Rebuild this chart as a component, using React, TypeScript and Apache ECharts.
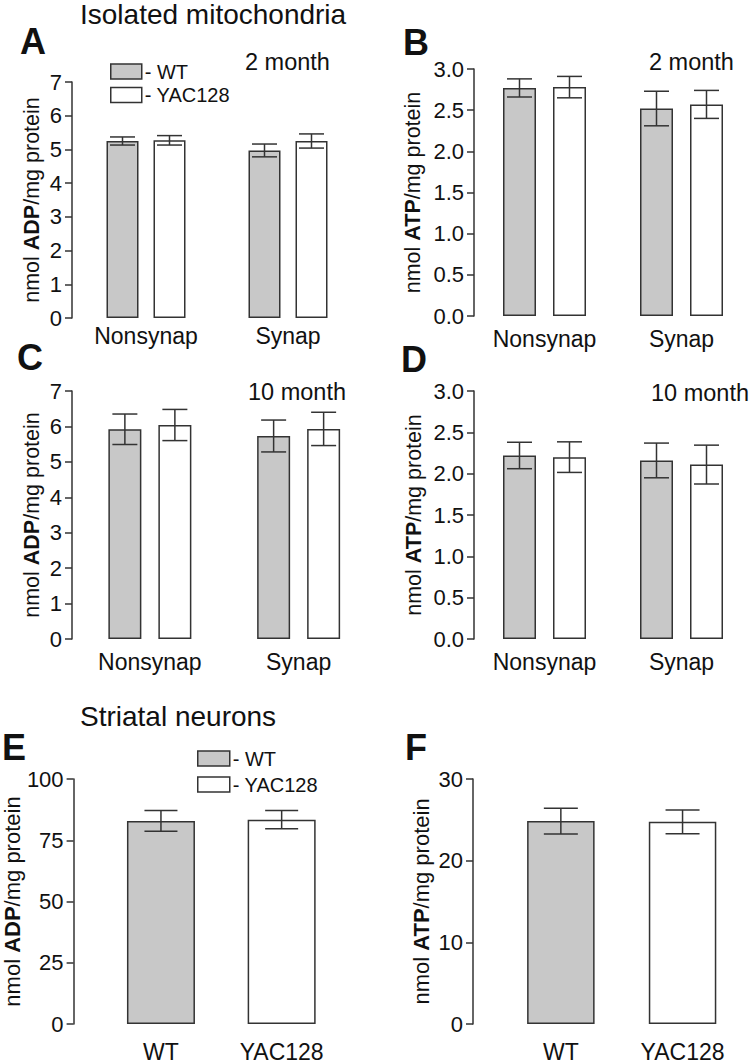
import React, { useEffect, useRef } from 'react';
import * as echarts from 'echarts';

// ---- data ----
const mitoGroups = ['Nonsynap', 'Synap'];
const neuronGroups = ['WT', 'YAC128'];
const seriesNames = ['WT', 'YAC128'];

// 2 month ADP (A)
const adp2moWT = [5.25, 4.97];
const adp2moWTErr = [0.12, 0.19];
const adp2moYAC = [5.27, 5.25];
const adp2moYACErr = [0.14, 0.21];
// 2 month ATP (B)
const atp2moWT = [2.77, 2.52];
const atp2moWTErr = [0.11, 0.21];
const atp2moYAC = [2.78, 2.57];
const atp2moYACErr = [0.13, 0.17];
// 10 month ADP (C)
const adp10moWT = [5.92, 5.73];
const adp10moWTErr = [0.43, 0.45];
const adp10moYAC = [6.04, 5.93];
const adp10moYACErr = [0.44, 0.47];
// 10 month ATP (D)
const atp10moWT = [2.22, 2.16];
const atp10moWTErr = [0.16, 0.21];
const atp10moYAC = [2.2, 2.11];
const atp10moYACErr = [0.185, 0.235];
// Striatal neurons (E, F)
const adpNeuron = [82.9, 83.4];
const adpNeuronErr = [4.2, 3.75];
const atpNeuron = [24.85, 24.76];
const atpNeuronErr = [1.57, 1.45];

// axis ranges [min, max, interval]
const mitoADPAxis = [0, 7, 1];
const mitoATPAxis = [0, 3, 0.5];
const neuronADPAxis = [0, 100, 25];
const neuronATPAxis = [0, 30, 10];

// ---- styling ----
const FONT = 'Liberation Sans, Arial, Helvetica, sans-serif';
const GRAY = '#c8c8c8';
const EDGE = '#333333';
const INK = '#111111';

function yName(met: string) {
  return '{n|nmol }{b|' + met + '}{n|/mg protein}';
}

function makeErr(idx: number, vals: number[], errs: number[], offset: number, capW: number) {
  return {
    type: 'custom',
    xAxisIndex: idx,
    yAxisIndex: idx,
    silent: true,
    z: 5,
    data: vals.map((v, i) => [i, v, errs[i]]),
    encode: { x: 0, y: 1 },
    renderItem: (params: any, api: any) => {
      const i = api.value(0);
      const v = api.value(1);
      const e = api.value(2);
      const top = api.coord([i, v + e]);
      const bot = api.coord([i, v - e]);
      const x = top[0] + offset;
      const st = { stroke: EDGE, lineWidth: 1.5 };
      return {
        type: 'group',
        children: [
          { type: 'line', shape: { x1: x, y1: top[1], x2: x, y2: bot[1] }, style: st },
          { type: 'line', shape: { x1: x - capW / 2, y1: top[1], x2: x + capW / 2, y2: top[1] }, style: st },
          { type: 'line', shape: { x1: x - capW / 2, y1: bot[1], x2: x + capW / 2, y2: bot[1] }, style: st },
        ],
      };
    },
  };
}

function buildOption() {
  const panels = [
    { grid: { left: 75, top: 82, width: 284, height: 236 }, off: 3, axis: mitoADPAxis, dec: 0, met: 'ADP', nameGap: 29, nameSize: 21.5, xMargin: 6,
      cats: mitoGroups, wt: adp2moWT, wtE: adp2moWTErr, yac: adp2moYAC, yacE: adp2moYACErr, barW: 32, gap: 15, capW: 25 },
    { grid: { left: 476, top: 69, width: 297, height: 247 }, off: 2, axis: mitoATPAxis, dec: 1, met: 'ATP', nameGap: 50, nameSize: 21.5, xMargin: 11,
      cats: mitoGroups, wt: atp2moWT, wtE: atp2moWTErr, yac: atp2moYAC, yacE: atp2moYACErr, barW: 33, gap: 17, capW: 25 },
    { grid: { left: 75.5, top: 391, width: 297.5, height: 248 }, off: 3.5, axis: mitoADPAxis, dec: 0, met: 'ADP', nameGap: 29, nameSize: 21.5, xMargin: 11,
      cats: mitoGroups, wt: adp10moWT, wtE: adp10moWTErr, yac: adp10moYAC, yacE: adp10moYACErr, barW: 33, gap: 17, capW: 25 },
    { grid: { left: 476, top: 391, width: 297, height: 248 }, off: 2, axis: mitoATPAxis, dec: 1, met: 'ATP', nameGap: 49, nameSize: 21.5, xMargin: 11,
      cats: mitoGroups, wt: atp10moWT, wtE: atp10moWTErr, yac: atp10moYAC, yacE: atp10moYACErr, barW: 33, gap: 17, capW: 25 },
  ];
  const neuronPanels = [
    { grid: { left: 98, top: 779, width: 244, height: 245 }, off: 27, axis: neuronADPAxis, met: 'ADP', nameGap: 47, nameSize: 22, xMargin: 16,
      vals: adpNeuron, errs: adpNeuronErr, barW: 68, capW: 33 },
    { grid: { left: 500, top: 779, width: 243.4, height: 245 }, off: 27, axis: neuronATPAxis, met: 'ATP', nameGap: 41, nameSize: 22, xMargin: 16,
      vals: atpNeuron, errs: atpNeuronErr, barW: 67.5, capW: 34 },
  ];

  const grid: any[] = [];
  const xAxis: any[] = [];
  const yAxis: any[] = [];
  const series: any[] = [];

  const yAxisCommon = (idx: number, p: any, dec: number) => ({
    gridIndex: idx,
    type: 'value',
    min: p.axis[0],
    max: p.axis[1],
    interval: p.axis[2],
    offset: p.off,
    axisLine: { show: true, lineStyle: { color: EDGE, width: 1.5 } },
    axisTick: { show: true, length: 7, lineStyle: { color: EDGE, width: 1.5 } },
    splitLine: { show: false },
    axisLabel: {
      fontSize: 22, color: INK, fontFamily: FONT, margin: 10,
      formatter: (v: number) => v.toFixed(dec),
    },
    name: yName(p.met),
    nameLocation: 'middle',
    nameGap: p.nameGap,
    nameTextStyle: {
      color: INK,
      rich: {
        n: { fontSize: p.nameSize, fontFamily: FONT, color: INK },
        b: { fontSize: p.nameSize, fontFamily: FONT, color: INK, fontWeight: 'bold' },
      },
    },
  });

  const xAxisCommon = (idx: number, cats: string[], margin: number) => ({
    gridIndex: idx,
    type: 'category',
    data: cats,
    axisLine: { show: false },
    axisTick: { show: false },
    axisLabel: { fontSize: 23, color: INK, fontFamily: FONT, margin, interval: 0 },
  });

  panels.forEach((p, idx) => {
    grid.push({ ...p.grid, containLabel: false });
    xAxis.push(xAxisCommon(idx, p.cats, p.xMargin));
    yAxis.push(yAxisCommon(idx, p, p.dec));
    const barGap = (p.gap / p.barW) * 100 + '%';
    series.push({
      type: 'bar', name: seriesNames[0], xAxisIndex: idx, yAxisIndex: idx, data: p.wt,
      barWidth: p.barW, barGap,
      itemStyle: { color: GRAY, borderColor: EDGE, borderWidth: 1.5 },
    });
    series.push({
      type: 'bar', name: seriesNames[1], xAxisIndex: idx, yAxisIndex: idx, data: p.yac,
      barWidth: p.barW, barGap,
      itemStyle: { color: '#ffffff', borderColor: EDGE, borderWidth: 1.5 },
    });
    const o = (p.barW + p.gap) / 2;
    series.push(makeErr(idx, p.wt, p.wtE, -o, p.capW));
    series.push(makeErr(idx, p.yac, p.yacE, o, p.capW));
  });

  neuronPanels.forEach((p, k) => {
    const idx = panels.length + k;
    grid.push({ ...p.grid, containLabel: false });
    xAxis.push(xAxisCommon(idx, neuronGroups, p.xMargin));
    yAxis.push(yAxisCommon(idx, p, 0));
    series.push({
      type: 'bar', name: seriesNames[0], xAxisIndex: idx, yAxisIndex: idx,
      data: [p.vals[0], '-'], barWidth: p.barW, barGap: '-100%',
      itemStyle: { color: GRAY, borderColor: EDGE, borderWidth: 1.5 },
    });
    series.push({
      type: 'bar', name: seriesNames[1], xAxisIndex: idx, yAxisIndex: idx,
      data: ['-', p.vals[1]], barWidth: p.barW, barGap: '-100%',
      itemStyle: { color: '#ffffff', borderColor: EDGE, borderWidth: 1.5 },
    });
    series.push(makeErr(idx, p.vals, p.errs, 0, p.capW));
  });

  const legendCommon = {
    orient: 'vertical',
    padding: 0,
    icon: 'rect',
    itemWidth: 31,
    itemHeight: 15,
    selectedMode: false,
    data: seriesNames,
    formatter: (name: string) => '- ' + name,
    itemStyle: { borderColor: EDGE, borderWidth: 1.5 },
    textStyle: { fontSize: 20, color: INK, fontFamily: FONT, lineHeight: 20, padding: [0, 0, 0, -2] },
  };

  const txt = (text: string, x: number, y: number, size: number, bold = false) => ({
    type: 'text',
    x,
    y,
    silent: true,
    style: {
      text,
      fontSize: size,
      fontFamily: FONT,
      fontWeight: bold ? 'bold' : 'normal',
      fill: INK,
      align: 'left',
      verticalAlign: 'middle',
    },
  });

  return {
    animation: false,
    backgroundColor: '#ffffff',
    grid,
    xAxis,
    yAxis,
    series,
    legend: [
      { ...legendCommon, left: 110, top: 61.5, itemGap: 3.5 },
      { ...legendCommon, left: 197, top: 748.5, itemGap: 6, itemWidth: 32 },
    ],
    graphic: [
      txt('Isolated mitochondria', 80, 14, 28),
      txt('Striatal neurons', 80, 716, 28),
      txt('A', 20, 41, 36, true),
      txt('B', 403, 42, 36, true),
      txt('C', 17, 357, 36, true),
      txt('D', 401, 359, 36, true),
      txt('E', 2, 747, 36, true),
      txt('F', 405, 747, 36, true),
      txt('2 month', 245, 62, 23.5),
      txt('2 month', 649, 62, 23.5),
      txt('10 month', 248, 392, 23.5),
      txt('10 month', 651, 393, 23.5),
    ],
  };
}

export default function App() {
  const ref = useRef<HTMLDivElement>(null);
  useEffect(() => {
    if (!ref.current) return;
    const chart = echarts.init(ref.current, undefined, { renderer: 'svg' });
    chart.setOption(buildOption() as any);
    return () => chart.dispose();
  }, []);
  return (
    <div
      ref={ref}
      style={{ position: 'absolute', left: 0, top: 0, width: 750, height: 1063, background: '#fff' }}
    />
  );
}
